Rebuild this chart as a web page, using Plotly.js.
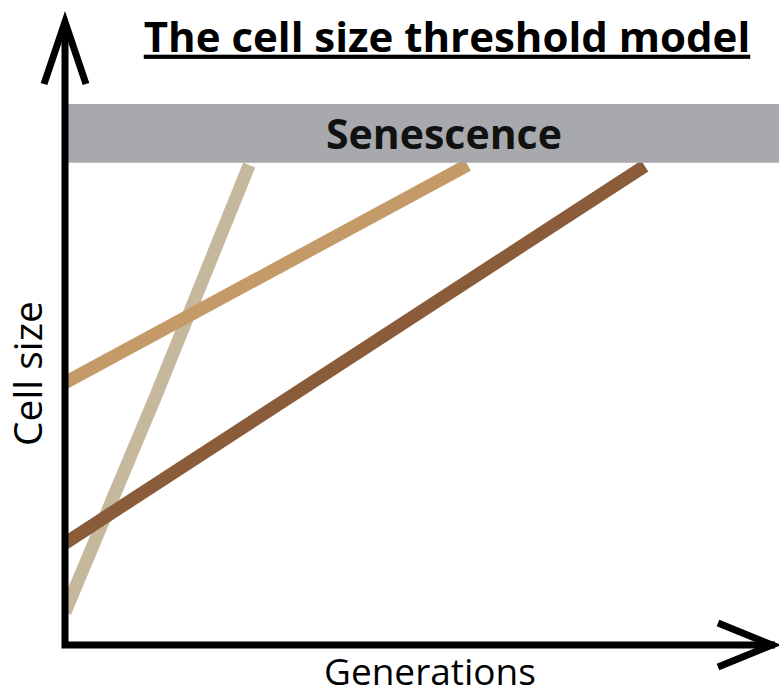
<!DOCTYPE html>
<html>
<head>
<meta charset="utf-8">
<script src="https://cdn.plot.ly/plotly-3.0.1.min.js"></script>
<style>html,body{margin:0;padding:0;background:#fff;}#chart{width:779px;height:696px;}</style>
</head>
<body>
<div id="chart"></div>
<script>
// ---- data (schematic units: generations 0-100, cell size 0-100) ----
const seriesNames = ["Fast growth", "Large start", "Small start"];
const gensBeige  = [0, 12.5, 25.8];
const sizeBeige  = [5.2, 38.8, 75.95];
const gensTan    = [0, 56.4];
const sizeTan    = [41.5, 75.95];
const gensBrown  = [0, 81.2];
const sizeBrown  = [16.1, 75.8];
const senescenceBand = [76.3, 85.6];
const titleText = "The cell size threshold model";
const bandLabel = "Senescence";
const xLabel = "Generations";
const yLabel = "Cell size";

// ---- layout geometry ----
const W = 779, H = 696;
const M = {l: 65, r: 0, t: 13, b: 51};
const PW = W - M.l - M.r, PH = H - M.t - M.b;
const px = x => (x - M.l) / PW;          // page pixel -> paper x
const py = y => (H - M.b - y) / PH;      // page pixel -> paper y
const FONT = "Open Sans, Noto Sans, DejaVu Sans, sans-serif";

const traces = [
  {x: gensBeige, y: sizeBeige, name: seriesNames[0], mode: "lines", line: {color: "#c5b89d", width: 13}},
  {x: gensTan,   y: sizeTan,   name: seriesNames[1], mode: "lines", line: {color: "#c59a69", width: 13}},
  {x: gensBrown, y: sizeBrown, name: seriesNames[2], mode: "lines", line: {color: "#8a5c3a", width: 13}}
];

const shapes = [
  {type: "rect", layer: "above", xref: "paper", yref: "y",
   x0: px(66), x1: px(790), y0: senescenceBand[0], y1: senescenceBand[1],
   fillcolor: "#a7a9ac", line: {width: 0}},
  {type: "path", layer: "above", xref: "paper", yref: "paper",
   path: `M ${px(65)},${py(22)} L ${px(65)},${py(645)} L ${px(775)},${py(645)}`,
   line: {color: "#000", width: 7}},
  {type: "path", layer: "above", xref: "paper", yref: "paper",
   path: `M ${px(44)},${py(84)} L ${px(65)},${py(22)} L ${px(86)},${py(84)}`,
   line: {color: "#000", width: 7}},
  {type: "path", layer: "above", xref: "paper", yref: "paper",
   path: `M ${px(718)},${py(623)} L ${px(772)},${py(645)} L ${px(718)},${py(667)}`,
   line: {color: "#000", width: 7}}
];

const annotations = [
  {text: "<b>" + bandLabel + "</b>", xref: "paper", yref: "y",
   x: px(444), y: (senescenceBand[0] + senescenceBand[1]) / 2,
   showarrow: false, xanchor: "center", yanchor: "middle",
   font: {family: FONT, size: 41, color: "#111"}},
  {text: xLabel, xref: "paper", yref: "paper", x: px(430), y: py(670),
   showarrow: false, xanchor: "center", yanchor: "middle",
   font: {family: FONT, size: 37, color: "#000"}},
  {text: yLabel, xref: "paper", yref: "paper", x: px(27), y: py(374),
   showarrow: false, xanchor: "center", yanchor: "middle", textangle: -90,
   font: {family: FONT, size: 39, color: "#000"}}
];

const layout = {
  width: W, height: H,
  margin: M,
  paper_bgcolor: "#fff", plot_bgcolor: "#fff",
  showlegend: false,
  title: {text: "<b>" + titleText + "</b>", x: 447 / W, xanchor: "center",
          y: 1 - 37 / H, yanchor: "middle", yref: "container",
          font: {family: FONT, size: 42, color: "#000", lineposition: "under"}},
  xaxis: {range: [0, 100], showgrid: false, zeroline: false, showline: false,
          showticklabels: false, ticks: "", fixedrange: true},
  yaxis: {range: [0, 100], showgrid: false, zeroline: false, showline: false,
          showticklabels: false, ticks: "", fixedrange: true},
  shapes: shapes,
  annotations: annotations
};

Plotly.newPlot("chart", traces, layout, {displayModeBar: false, staticPlot: true});
</script>
</body>
</html>
